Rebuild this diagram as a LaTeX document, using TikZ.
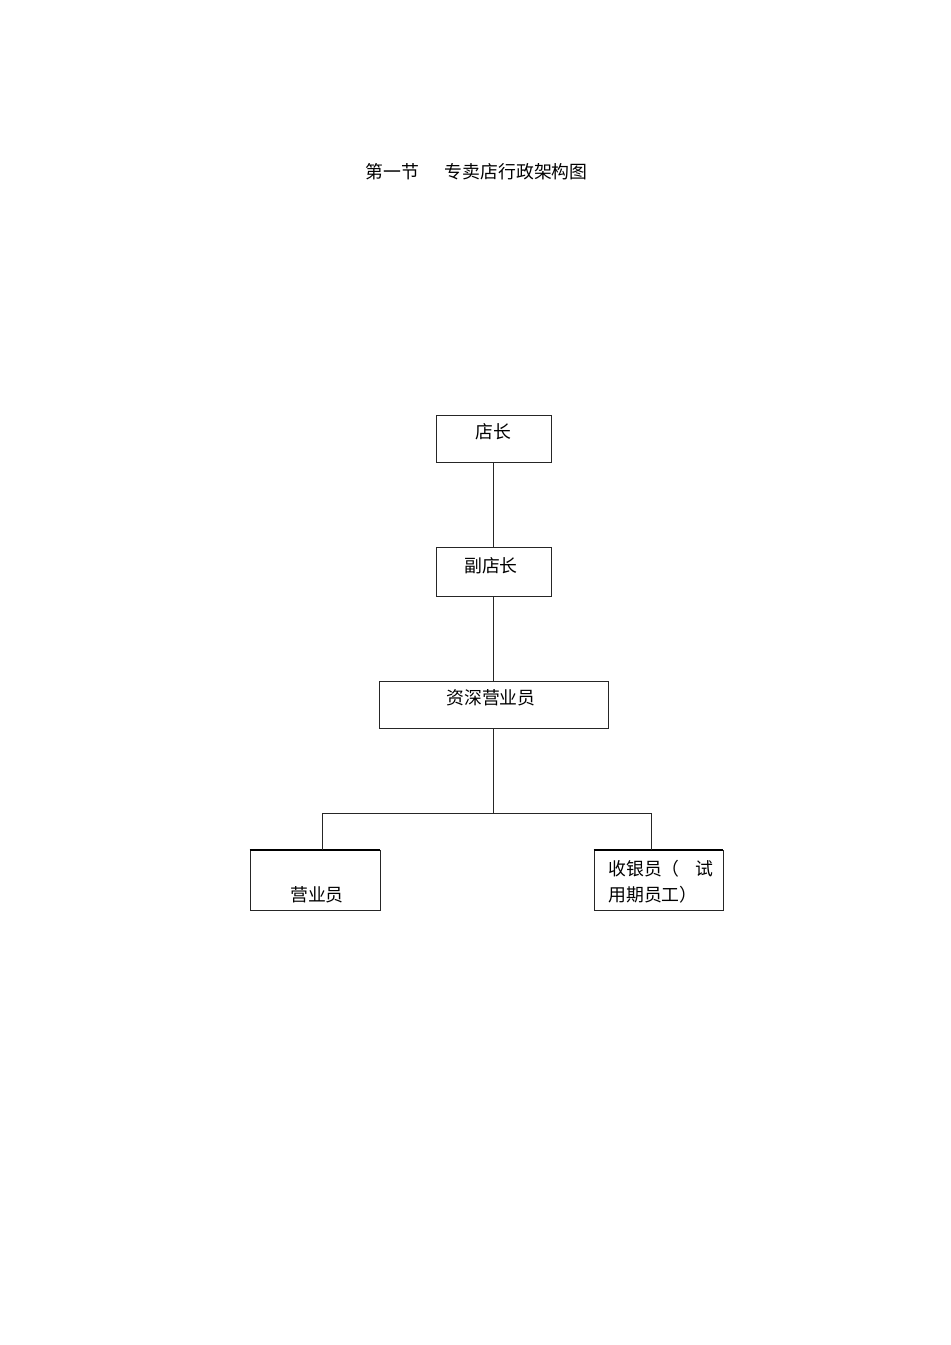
\documentclass[tikz,border=0pt]{standalone}
\usepackage{fontspec}
\setmainfont{Noto Sans CJK SC}
\usetikzlibrary{positioning}
\newcommand\cntext{\fontsize{12.7}{18}\selectfont}
\tikzset{
	box/.style={draw=black!85, line width=0.6pt, inner sep=0pt},
	link/.style={draw=black!85, line width=0.6pt},
	label text/.style={inner sep=0pt, font=\cntext}
}

\begin{document}
\begin{tikzpicture}[x=0.025cm, y=-0.025cm]
			%%%%% START %%%%%
			\useasboundingbox (0, 0) rectangle (950, 1345);
			
			\node[label text, anchor=west] (title) at (365, 172) {第一节\hspace{18.4pt}专卖店行政架构图};
			
			\node[box, minimum width=2.875cm, minimum height=1.175cm] (dz) at (493.5, 438.5) {};
			\node[label text] (dzt) at (493, 432) {店长};
			
			\node[box, minimum width=2.875cm, minimum height=1.225cm] (fdz) at (493.5, 571.5) {};
			\node[label text] (fdzt) at (491, 566) {副店长};
			
			\node[box, minimum width=5.725cm, minimum height=1.175cm] (zs) at (493.5, 704.5) {};
			\node[label text] (zst) at (491, 698) {资深营业员};
			
			\node[box, minimum width=3.25cm, minimum height=1.5cm] (yy) at (315, 880) {};
			\draw[line width=1.4pt] (yy.north west) -- (yy.north east);
			\node[label text] (yyt) at (317, 895) {营业员};
			
			\node[box, minimum width=3.225cm, minimum height=1.5cm] (sy) at (658.5, 880) {};
			\draw[line width=1.4pt] (sy.north west) -- (sy.north east);
			\node[label text, anchor=west] (syt1) at (608, 869) {收银员（\hspace{11pt}试};
			\node[label text, anchor=west] (syt2) at (608, 895) {用期员工）};
			
			\coordinate (fork) at (493.5, 813);
			\coordinate (forkL) at (322, 813);
			\coordinate (forkR) at (651, 813);
			
			\draw[link] (dz.south) -- (fdz.north);
			\draw[link] (fdz.south) -- (zs.north);
			\draw[link] (zs.south) -- (fork);
			\draw[link] (forkL) -- (forkR);
			\draw[link] (forkL) -- (forkL |- yy.north);
			\draw[link] (forkR) -- (forkR |- sy.north);
			
			%%%%% END %%%%%
\end{tikzpicture}
\end{document}
